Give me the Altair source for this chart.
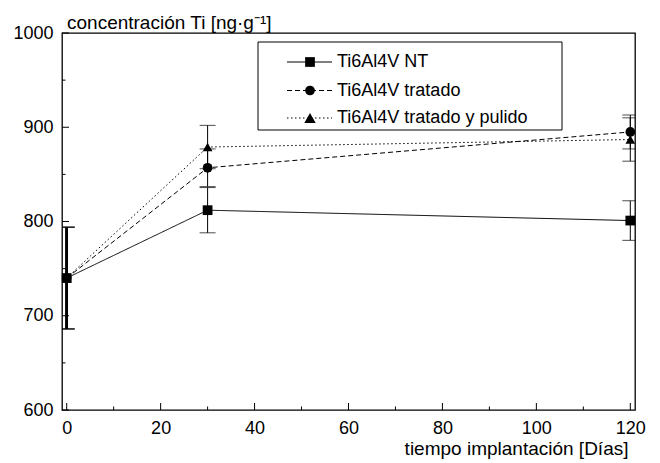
import altair as alt
import pandas as pd

# ---- data ----
dias = [0, 30, 120]
series = ["Ti6Al4V NT", "Ti6Al4V tratado", "Ti6Al4V tratado y pulido"]
nt = [740, 812, 801]
nt_err = [54, 24, 21]
tratado = [740, 857, 895]
tratado_err = [54, 20, 18]
pulido = [740, 879, 887]
pulido_err = [54, 23, 23]

x_ticks_major = [0, 20, 40, 60, 80, 100, 120]
x_ticks_minor = [10, 30, 50, 70, 90, 110]
y_ticks_major = [600, 700, 800, 900, 1000]
y_ticks_minor = [650, 750, 850, 950]

x_title = "tiempo implantación [Días]"
y_title = "concentración Ti [ng·g⁻¹]"

rows = []
for name, vals, errs in zip(series, [nt, tratado, pulido], [nt_err, tratado_err, pulido_err]):
    for d, v, e in zip(dias, vals, errs):
        rows.append({"serie": name, "dia": d, "valor": v, "lo": v - e, "hi": v + e})
df = pd.DataFrame(rows)

FONT = "Liberation Sans"
W, H = 573, 377
xdom = [-1, 121]
ydom = [600, 1000]

dash_scale = alt.Scale(domain=series, range=[[1, 0], [5, 3], [1.5, 2.5]])
shape_scale = alt.Scale(domain=series, range=["square", "circle", "triangle-up"])
size_scale = alt.Scale(domain=series, range=[95, 95, 130])

xs = alt.Scale(domain=xdom, nice=False, zero=False)
ys = alt.Scale(domain=ydom, nice=False, zero=False)

x_enc = alt.X("dia:Q", scale=xs,
              axis=alt.Axis(values=x_ticks_major, ticks=False, domain=False, grid=False,
                            format="d",
                            labelFont=FONT, labelFontSize=18, labelColor="black",
                            labelPadding=9, labelFlush=False,
                            title=x_title, titleFont=FONT, titleFontSize=19,
                            titleFontWeight="normal", titleColor="black",
                            titleAlign="right", titleAnchor="end", titleX=566, titleY=44,
                            titleBaseline="alphabetic"))
y_enc = alt.Y("valor:Q", scale=ys,
              axis=alt.Axis(values=y_ticks_major, ticks=False, domain=False, grid=False,
                            format="d",
                            labelFont=FONT, labelFontSize=18, labelColor="black",
                            labelPadding=9, labelFlush=False, title=None))

base = alt.Chart(df)

lines = base.mark_line(color="black", strokeWidth=1).encode(
    x=x_enc, y=y_enc,
    strokeDash=alt.StrokeDash("serie:N", scale=dash_scale, legend=None),
)

errs = base.mark_rule(color="black").encode(
    x=alt.X("dia:Q", scale=xs),
    y=alt.Y("lo:Q", scale=ys),
    y2="hi:Q",
    strokeWidth=alt.condition(alt.datum.dia == 0, alt.value(2.5), alt.value(1)),
)
caps_lo = base.mark_tick(color="black", thickness=1, size=16, orient="horizontal", clip=True).encode(
    x=alt.X("dia:Q", scale=xs), y=alt.Y("lo:Q", scale=ys))
caps_hi = base.mark_tick(color="black", thickness=1, size=16, orient="horizontal", clip=True).encode(
    x=alt.X("dia:Q", scale=xs), y=alt.Y("hi:Q", scale=ys))

points = base.mark_point(filled=True, color="black", opacity=1).encode(
    x=alt.X("dia:Q", scale=xs), y=alt.Y("valor:Q", scale=ys),
    shape=alt.Shape("serie:N", scale=shape_scale, legend=None),
    size=alt.Size("serie:N", scale=size_scale, legend=None),
)

# inward axis ticks drawn from the tick lists
def xticks(vals, length):
    return alt.Chart(pd.DataFrame({"t": vals})).mark_rule(color="black", strokeWidth=1).encode(
        x=alt.X("t:Q", scale=xs), y=alt.value(H), y2=alt.value(H - length))

def yticks(vals, length):
    return alt.Chart(pd.DataFrame({"t": vals})).mark_rule(color="black", strokeWidth=1).encode(
        y=alt.Y("t:Q", scale=ys), x=alt.value(0), x2=alt.value(length))

tick_layers = [xticks(x_ticks_major, 7), xticks(x_ticks_minor, 3.5),
               yticks(y_ticks_major, 7), yticks(y_ticks_minor, 3.5)]

ytitle = alt.Chart(pd.DataFrame({"t": [y_title]})).mark_text(
    align="left", baseline="alphabetic", font=FONT, fontSize=19, color="black"
).encode(x=alt.value(5), y=alt.value(-4), text="t:N")

# legend box (drawn from the series list)
leg_layers = [
    alt.Chart(pd.DataFrame({"a": [0]})).mark_rect(fill="white", stroke="black", strokeWidth=1).encode(
        x=alt.value(196), x2=alt.value(500), y=alt.value(9), y2=alt.value(97))
]
row_y = [29, 57.5, 85]
dashes = [[1, 0], [5, 3], [1.5, 2.5]]
shapes = ["square", "circle", "triangle-up"]
sizes = [95, 95, 130]
for name, yy, dsh, shp, sz in zip(series, row_y, dashes, shapes, sizes):
    one = pd.DataFrame({"serie": [name]})
    leg_layers.append(alt.Chart(one).mark_rule(color="black", strokeWidth=1, strokeDash=dsh).encode(
        x=alt.value(225), x2=alt.value(270), y=alt.value(yy)))
    leg_layers.append(alt.Chart(one).mark_point(filled=True, color="black", opacity=1, size=sz, shape=shp).encode(
        x=alt.value(248), y=alt.value(yy)))
    leg_layers.append(alt.Chart(one).mark_text(align="left", baseline="middle", font=FONT,
                                               fontSize=18, color="black").encode(
        x=alt.value(275), y=alt.value(yy), text="serie:N"))

chart = alt.layer(lines, errs, caps_lo, caps_hi, points, *tick_layers, ytitle, *leg_layers).properties(
    width=W, height=H,
    autosize=alt.AutoSizeParams(type="none"),
    padding={"left": 62, "top": 33, "right": 25, "bottom": 53},
    background="white",
).configure_view(stroke="black", strokeWidth=1.3)

chart.save("out.html", embed_options={"renderer": "svg", "actions": False})
